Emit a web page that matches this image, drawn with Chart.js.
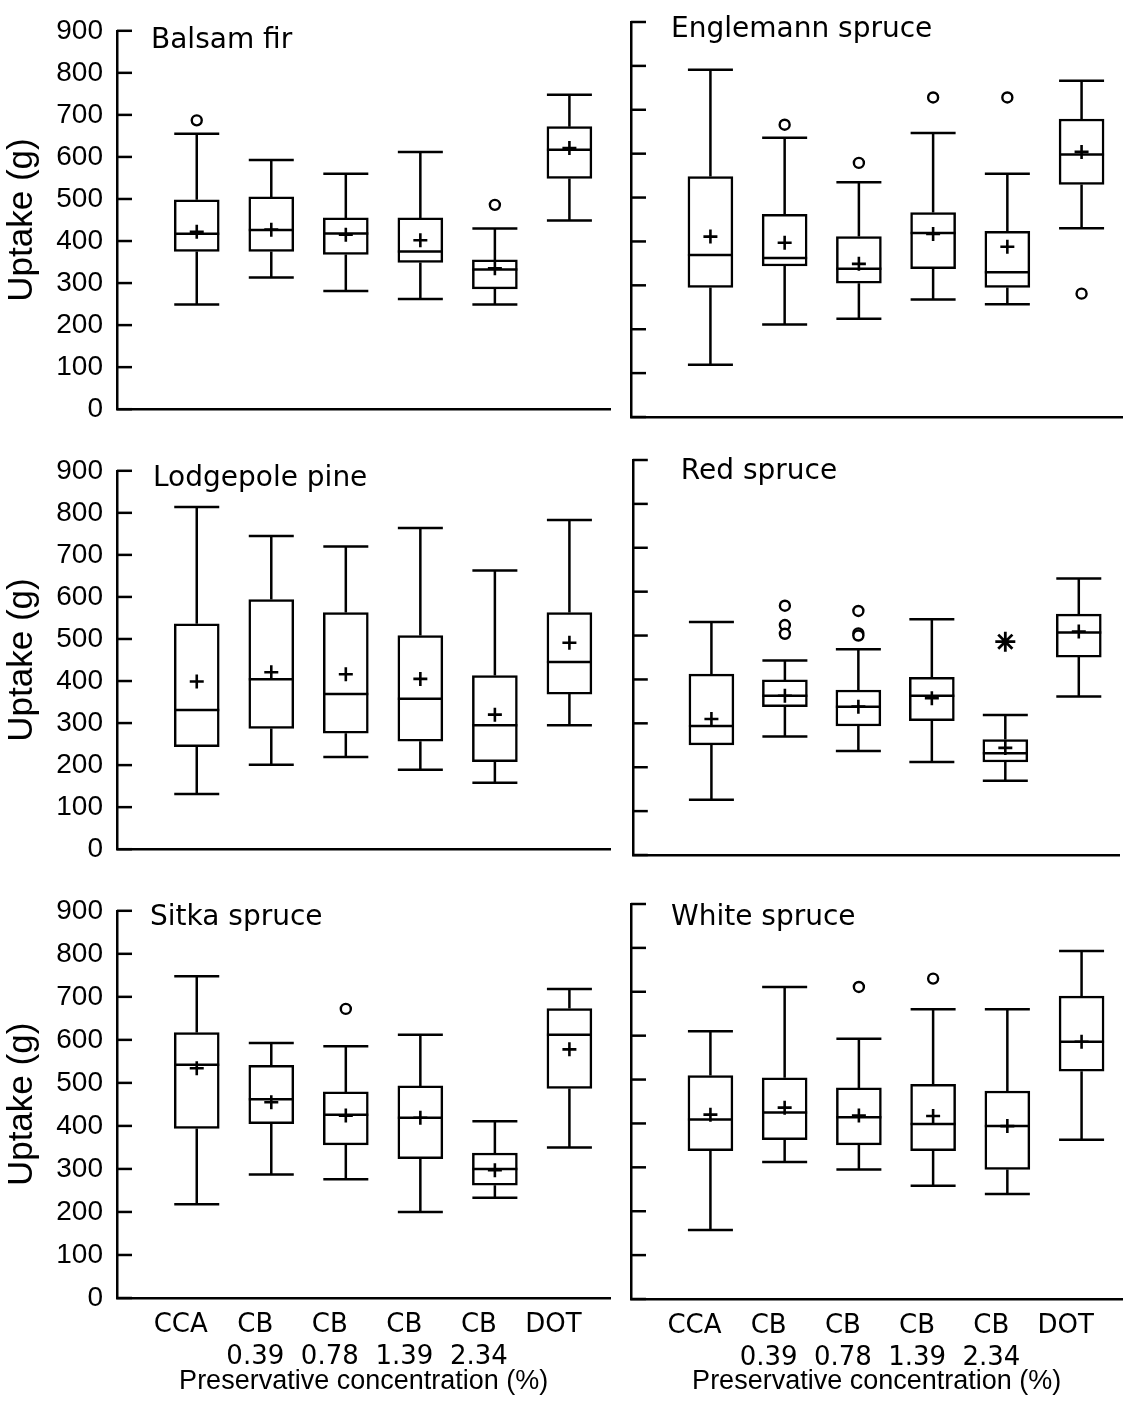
<!DOCTYPE html>
<html>
<head>
<meta charset="utf-8">
<script src="https://cdn.jsdelivr.net/npm/chart.js@4.4.1/dist/chart.umd.min.js"></script>
<style>
  body { margin: 0; background: #fff; }
  #page { position: relative; width: 1132px; height: 1403px; overflow: hidden; }
  canvas { position: absolute; }
</style>
</head>
<body>
<div id="page"></div>
<script>
// x categories (preservative, concentration %)
const categories = [['CCA'], ['CB', '0.39'], ['CB', '0.78'], ['CB', '1.39'], ['CB', '2.34'], ['DOT']];
const species = ['Balsam fir', 'Englemann spruce', 'Lodgepole pine', 'Red spruce', 'Sitka spruce', 'White spruce'];
const yTicks = [0, 100, 200, 300, 400, 500, 600, 700, 800, 900];

// one row per species, one value per category
const whiskerLow = [
  [249, 313, 281, 262, 249, 449],
  [119, 211, 224, 268, 257, 430],
  [131, 201, 219, 189, 158, 295],
  [126, 270, 237, 212, 169, 361],
  [218, 287, 276, 200, 233, 350],
  [157, 312, 295, 258, 239, 363]
];
const lowerQuartile = [
  [375, 375, 368, 349, 286, 549],
  [295, 344, 305, 338, 295, 530],
  [244, 287, 276, 257, 208, 369],
  [251, 338, 294, 306, 212, 451],
  [394, 405, 356, 324, 262, 487],
  [338, 363, 351, 338, 295, 519]
];
const medians = [
  [417, 426, 418, 375, 332, 617],
  [369, 362, 338, 419, 330, 598],
  [331, 404, 369, 358, 295, 445],
  [294, 363, 338, 363, 232, 507],
  [542, 462, 426, 419, 300, 612],
  [409, 425, 414, 399, 394, 586]
];
const upperQuartile = [
  [498, 505, 455, 455, 355, 672],
  [548, 462, 411, 466, 423, 679],
  [536, 594, 563, 508, 413, 563],
  [412, 399, 376, 405, 263, 549],
  [617, 541, 479, 493, 337, 673],
  [509, 504, 481, 489, 474, 690]
];
const whiskerHigh = [
  [655, 593, 560, 612, 430, 748],
  [791, 636, 535, 647, 554, 766],
  [814, 745, 720, 764, 663, 783],
  [531, 443, 469, 537, 319, 630],
  [748, 593, 585, 612, 411, 718],
  [610, 711, 593, 660, 660, 793]
];
const means = [
  [422, 427, 415, 402, 335, 621],
  [411, 397, 349, 417, 388, 604],
  [399, 421, 416, 405, 320, 491],
  [310, 363, 338, 357, 244, 509],
  [534, 455, 424, 419, 297, 578],
  [420, 436, 418, 417, 394, 586]
];
// [category index, value]
const outliers = [
  [[0, 687], [4, 486]],
  [[1, 666], [2, 579], [3, 728], [4, 728], [5, 281]],
  [],
  [[1, 568], [1, 524], [1, 504], [2, 556], [2, 505], [2, 500]],
  [[2, 672]],
  [[2, 711], [3, 730]]
];
const extremes = [[], [], [], [[4, 486]], [], []];

// panel placement on the page
const panels = [
  { left: 0,   top: 0,   w: 620, h: 440, yW: 117, padTop: 21, xH: 23,  padRight: 5, tx: 34, ty: 17 },
  { left: 620, top: 0,   w: 512, h: 440, yW: 11,  padTop: 22, xH: 23,  padRight: 7, tx: 40, ty: 15 },
  { left: 0,   top: 440, w: 620, h: 440, yW: 117, padTop: 21, xH: 25,  padRight: 5, tx: 36, ty: 15 },
  { left: 620, top: 440, w: 512, h: 440, yW: 11,  padTop: 20, xH: 25,  padRight: 7, tx: 48, ty: 19 },
  { left: 0,   top: 880, w: 620, h: 523, yW: 117, padTop: 22, xH: 105, padRight: 5, tx: 33, ty: 14 },
  { left: 620, top: 880, w: 512, h: 523, yW: 11,  padTop: 24, xH: 104, padRight: 7, tx: 40, ty: 21 }
];

Chart.defaults.color = '#000';
Chart.defaults.font.family = "'Liberation Sans', Arial, sans-serif";

const BOX_W = 45;
const LW = 2.5;

const boxPlugin = {
  id: 'boxParts',
  beforeDatasetsDraw(chart) {
    const s = chart.options.plugins.boxParts.series;
    const x = chart.scales.x, y = chart.scales.y, ctx = chart.ctx;
    ctx.save();
    ctx.strokeStyle = '#000';
    ctx.lineWidth = LW;
    // inward tick marks
    yTicks.forEach(v => {
      const py = y.getPixelForValue(v);
      ctx.beginPath();
      ctx.moveTo(chart.chartArea.left, py);
      ctx.lineTo(chart.chartArea.left + 15, py);
      ctx.stroke();
    });
    // whiskers
    categories.forEach((c, i) => {
      const cx = x.getPixelForValue(i);
      const pairs = [[upperQuartile[s][i], whiskerHigh[s][i]], [lowerQuartile[s][i], whiskerLow[s][i]]];
      pairs.forEach(([from, to]) => {
        const y1 = y.getPixelForValue(from), y2 = y.getPixelForValue(to);
        ctx.beginPath();
        ctx.moveTo(cx, y1);
        ctx.lineTo(cx, y2);
        ctx.moveTo(cx - BOX_W / 2, y2);
        ctx.lineTo(cx + BOX_W / 2, y2);
        ctx.stroke();
      });
    });
    ctx.restore();
  },
  afterDatasetDraw(chart, args) {
    if (args.index !== 0) return;
    const s = chart.options.plugins.boxParts.series;
    const x = chart.scales.x, y = chart.scales.y, ctx = chart.ctx;
    ctx.save();
    ctx.strokeStyle = '#000';
    ctx.lineWidth = LW;
    categories.forEach((c, i) => {
      const cx = x.getPixelForValue(i);
      const py = y.getPixelForValue(medians[s][i]);
      ctx.beginPath();
      ctx.moveTo(cx - BOX_W / 2, py);
      ctx.lineTo(cx + BOX_W / 2, py);
      ctx.stroke();
    });
    ctx.restore();
  },
  afterDraw(chart) {
    const o = chart.options.plugins.boxParts;
    const ctx = chart.ctx;
    ctx.save();
    ctx.font = "28px 'DejaVu Sans'";
    ctx.fillStyle = '#000';
    ctx.textBaseline = 'alphabetic';
    ctx.fillText(species[o.series], chart.chartArea.left + o.tx, chart.chartArea.top + o.ty);
    ctx.restore();
  }
};

const page = document.getElementById('page');

panels.forEach((p, s) => {
  const cv = document.createElement('canvas');
  cv.width = p.w;
  cv.height = p.h;
  cv.style.left = p.left + 'px';
  cv.style.top = p.top + 'px';
  page.appendChild(cv);

  const isLeft = p.left === 0;
  const isBottom = p.top === 880;

  new Chart(cv, {
    type: 'bar',
    data: {
      datasets: [
        {
          type: 'bar',
          data: categories.map((c, i) => ({ x: i, y: [lowerQuartile[s][i], upperQuartile[s][i]] })),
          backgroundColor: '#fff',
          borderColor: '#000',
          borderWidth: LW,
          borderSkipped: false,
          barThickness: BOX_W,
          order: 3
        },
        {
          type: 'scatter',
          data: means[s].map((v, i) => ({ x: i, y: v })),
          pointStyle: 'cross',
          pointRadius: 7,
          borderColor: '#000',
          borderWidth: 2.6,
          order: 1
        },
        {
          type: 'scatter',
          data: outliers[s].map(([i, v]) => ({ x: i, y: v })),
          pointStyle: 'circle',
          pointRadius: 5,
          backgroundColor: '#fff',
          borderColor: '#000',
          borderWidth: 2.4,
          order: 1
        },
        {
          type: 'scatter',
          data: extremes[s].map(([i, v]) => ({ x: i, y: v })),
          pointStyle: 'star',
          pointRadius: 10,
          borderColor: '#000',
          borderWidth: 2.8,
          order: 1
        }
      ]
    },
    options: {
      responsive: false,
      animation: false,
      layout: { padding: { top: p.padTop, right: p.padRight, left: 0, bottom: 0 } },
      plugins: {
        legend: { display: false },
        tooltip: { enabled: false },
        boxParts: { series: s, tx: p.tx, ty: p.ty }
      },
      scales: {
        x: {
          type: 'linear',
          min: -1.07,
          max: 5.55,
          offset: false,
          grid: { display: false, drawTicks: false },
          border: { display: true, color: '#000', width: LW },
          afterBuildTicks: sc => { sc.ticks = categories.map((c, i) => ({ value: i })); },
          afterFit: sc => { sc.height = p.xH; },
          ticks: {
            display: isBottom,
            autoSkip: false,
            maxRotation: 0,
            padding: 12,
            labelOffset: -16,
            font: { family: "'DejaVu Sans'", size: 26, lineHeight: 1.2 },
            callback: v => categories[v]
          },
          title: {
            display: isBottom,
            text: 'Preservative concentration (%)',
            font: { size: 27 },
            padding: { top: 0, bottom: 5 }
          }
        },
        y: {
          type: 'linear',
          min: 0,
          max: 900,
          grid: { display: false, drawTicks: false },
          border: { display: true, color: '#000', width: LW },
          afterBuildTicks: sc => { sc.ticks = yTicks.map(v => ({ value: v })); },
          afterFit: sc => { sc.width = p.yW; },
          ticks: {
            display: isLeft,
            padding: 14,
            font: { size: 28 }
          },
          title: {
            display: isLeft,
            text: 'Uptake (g)',
            font: { size: 35 },
            padding: { top: 1, bottom: 0 }
          }
        }
      }
    },
    plugins: [boxPlugin]
  });
});
</script>
</body>
</html>
